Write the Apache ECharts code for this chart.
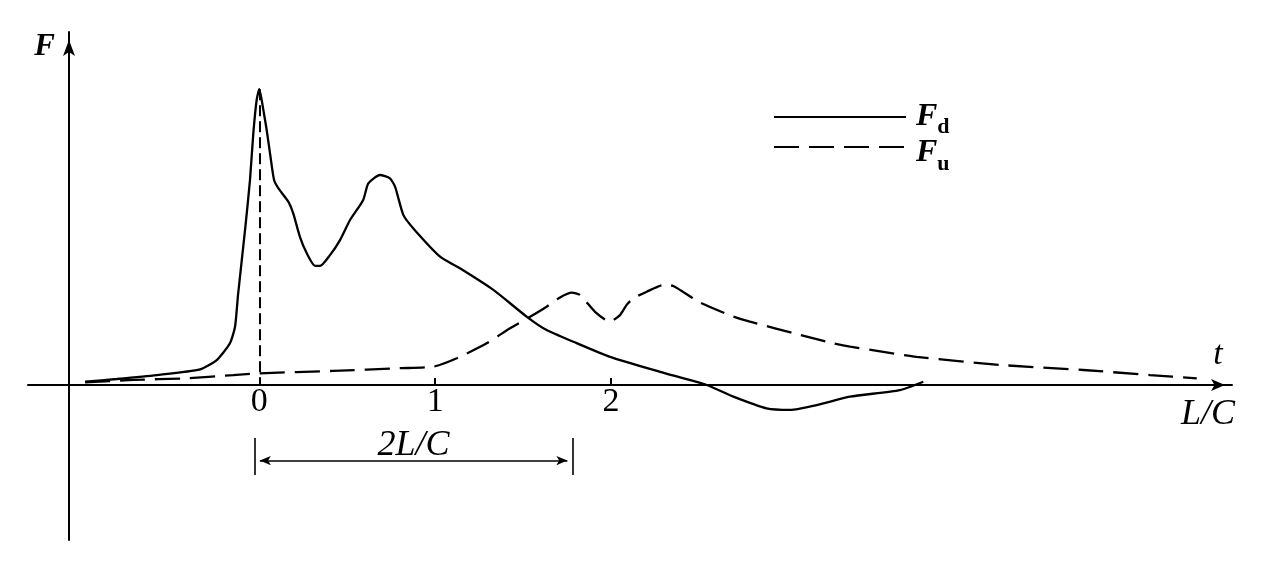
<!DOCTYPE html>
<html><head><meta charset="utf-8">
<script src="https://cdn.jsdelivr.net/npm/echarts@6/dist/echarts.min.js"></script>
<style>html,body{margin:0;padding:0;background:#fff}#c{width:1265px;height:562px}</style>
</head><body><div id="c"></div>
<script>
// F_d (solid) : time in L/C, force (arbitrary units)
const tD = [-0.991,-0.811,-0.583,-0.337,-0.242,-0.167,-0.138,-0.121,-0.081,-0.053,-0.034,-0.015,0,0.023,0.042,0.061,0.084,0.108,0.165,0.193,0.231,0.270,0.317,0.345,0.402,0.459,0.516,0.591,0.620,0.686,0.743,0.772,0.819,0.876,1.028,1.141,1.331,1.520,1.634,1.786,1.994,2.279,2.544,2.696,2.885,3.018,3.170,3.359,3.643,3.776];
const fD = [1.1,2.0,3.3,5.2,8.3,13.9,19.4,30,51.7,68.3,83.9,95,98.6,91.7,85,77.2,68.3,65.6,61.1,57.2,49.4,43.9,39.7,39.7,43.3,48.3,55,61.7,67.2,70,68.9,66.1,56.7,52.2,42.8,38.9,31.7,22.8,18.3,14.4,9.4,4.4,0,-3.9,-7.8,-8.3,-6.7,-3.9,-1.7,1.1];
// F_u (dashed)
const tU = [-0.991,-0.717,-0.432,-0.148,0,0.42,0.8,0.99,1.123,1.293,1.426,1.53,1.634,1.71,1.777,1.824,1.909,1.994,2.051,2.089,2.127,2.203,2.297,2.354,2.506,2.696,2.79,3.075,3.264,3.359,3.738,4.212,4.686,5.065,5.331];
const fU = [0.9,1.7,2.2,3.3,3.9,4.7,5.6,6.1,8.9,13.9,18.9,22.4,26.1,29.2,30.8,30,24.4,21.1,23.3,26.7,28.9,31.1,33.3,33,27.5,22.8,21.1,16.7,13.9,12.8,9.4,6.7,5,3.3,2.2];
const xTicks = [0, 1, 2];
const xRange = [-1.3153, 5.5314];
const yRange = [-51.67, 117.67];
const peakPoint = [0, 98.6];
const span = [0.003, 1.752];     // 2L/C arrow ends
const spanBars = [-0.025, 1.78]; // bracket bars
const spanY = -25.2, barTop = -17.7, barBottom = -30;

const serif = 'Liberation Serif';
const dData = tD.map((t, i) => [t, fD[i]]);
const uData = tU.map((t, i) => [t, fU[i]]);

const chart = echarts.init(document.getElementById('c'), null, {renderer: 'canvas'});
chart.setOption({
  animation: false,
  backgroundColor: '#fff',
  grid: {left: 28, right: 33, top: 32, bottom: 22, containLabel: false, outerBoundsMode: 'none'},
  legend: {
    orient: 'vertical', left: 773, top: 101, padding: 0,
    itemWidth: 132, itemHeight: 30, itemGap: -3,
    data: ['Fd', 'Fu'],
    itemStyle: {opacity: 0, color: 'transparent', borderWidth: 0},
    formatter: n => n === 'Fd' ? '{F|F}{s|d}' : '{G|F}{u|u}',
    textStyle: {
      rich: {
        F: {fontFamily: serif, fontStyle: 'italic', fontWeight: 'bold', fontSize: 32, color: '#000', padding: [0,0,0,5]},
        s: {fontFamily: serif, fontWeight: 'bold', fontSize: 22, color: '#000', padding: [20,0,0,0]},
        G: {fontFamily: serif, fontStyle: 'italic', fontWeight: 'bold', fontSize: 32, color: '#000', padding: [12,0,0,5]},
        u: {fontFamily: serif, fontWeight: 'bold', fontSize: 22, color: '#000', padding: [34,0,0,0]}
      }
    }
  },
  xAxis: {
    type: 'value', min: xRange[0], max: xRange[1],
    position: 'bottom', offset: -155,
    name: '{t|t}\n{L|L/C}', nameLocation: 'end', nameGap: -24,
    nameTextStyle: {
      align: 'center', verticalAlign: 'middle',
      rich: {
        t: {fontFamily: serif, fontStyle: 'italic', fontSize: 34, color: '#000', lineHeight: 60, padding: [0,0,0,20]},
        L: {fontFamily: serif, fontStyle: 'italic', fontSize: 36, color: '#000', lineHeight: 60}
      }
    },
    axisLine: {onZero: false, lineStyle: {color: '#000', width: 2}, symbol: ['none', 'arrow'], symbolSize: [9, 14], symbolOffset: [0, -7]},
    axisTick: {show: true, inside: true, length: 7, customValues: xTicks, lineStyle: {color: '#000', width: 2}},
    axisLabel: {show: true, customValues: xTicks, margin: 0, fontFamily: serif, fontSize: 34, color: '#000'},
    splitLine: {show: false}
  },
  yAxis: {
    type: 'value', min: yRange[0], max: yRange[1], offset: -41,
    name: 'F', nameLocation: 'end', nameGap: -15,
    nameTextStyle: {fontFamily: serif, fontStyle: 'italic', fontWeight: 'bold', fontSize: 31, color: '#000', align: 'right', verticalAlign: 'middle', padding: [0, 14, 0, 0]},
    axisLine: {show: true, onZero: false, lineStyle: {color: '#000', width: 2}, symbol: ['none', 'arrow'], symbolSize: [9, 16], symbolOffset: [0, -8]},
    axisTick: {show: false}, axisLabel: {show: false}, splitLine: {show: false}
  },
  series: [
    {
      name: 'Fd', type: 'line', data: dData, symbol: 'none', smooth: 0.2,
      lineStyle: {color: '#000', width: 2.3}, itemStyle: {color: '#000'},
      markLine: {
        silent: true, symbol: ['none', 'none'], animation: false,
        lineStyle: {color: '#000', width: 1.6, type: 'solid'},
        label: {show: false},
        emphasis: {disabled: true},
        data: [
          [{coord: [span[0], spanY], symbol: 'arrow', symbolSize: [7, 11]},
           {coord: [span[1], spanY], symbol: 'arrow', symbolSize: [7, 11],
            label: {show: true, position: 'middle', formatter: '2L/C', distance: -3, fontFamily: serif, fontStyle: 'italic', fontSize: 36, color: '#000'}}],
          [{coord: [spanBars[0], barTop]}, {coord: [spanBars[0], barBottom]}],
          [{coord: [spanBars[1], barTop]}, {coord: [spanBars[1], barBottom]}],
          [{coord: peakPoint, lineStyle: {type: [11, 5], width: 2}}, {coord: [peakPoint[0], 0]}]
        ]
      }
    },
    {
      name: 'Fu', type: 'line', data: uData, symbol: 'none', smooth: 0.2,
      lineStyle: {color: '#000', width: 2.3, type: [25, 10]}, itemStyle: {color: '#000'}
    }
  ]
});
</script></body></html>
